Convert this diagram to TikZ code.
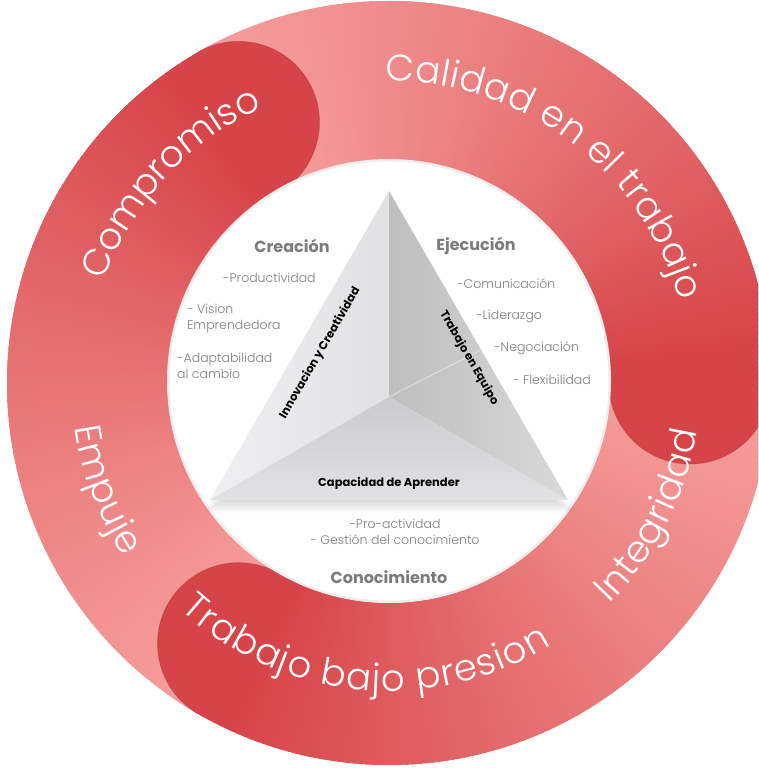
\documentclass[tikz,border=0pt]{standalone}
\usepackage{fontspec}
\setmainfont{Poppins}
\IfFontExistsTF{Poppins Light}
  {\newfontfamily\ringfamily{Poppins Light}}
  {\newfontfamily\ringfamily{Poppins}}
\usetikzlibrary{calc,decorations.text}

\definecolor{rlight}{HTML}{F69E9C}
\definecolor{rdark}{HTML}{D64348}
\definecolor{headgray}{HTML}{7B7B7B}
\definecolor{itemgray}{HTML}{7F7F7F}
\definecolor{faceLa}{HTML}{EFEFF1}
\definecolor{faceLb}{HTML}{E1E1E3}
\definecolor{faceRa}{HTML}{BEBEBF}
\definecolor{faceRb}{HTML}{D9D9D9}
\definecolor{faceBa}{HTML}{CBCBCD}
\definecolor{faceBb}{HTML}{E2E2E4}

\newcommand\ringfont{\ringfamily\fontsize{37}{40}\selectfont\color{white}}

\begin{document}
\begin{tikzpicture}[x=1pt,y=1pt,
  heading/.style={font=\bfseries\fontsize{16}{18}\selectfont, text=headgray, inner sep=0pt},
  item/.style={font=\ringfamily\fontsize{12.5}{16}\selectfont, text=itemgray, inner sep=0pt, align=left},
  facelabel/.style={font=\bfseries\fontsize{11.5}{13}\selectfont, text=black, inner sep=0pt},
  ringtext/.style={decorate, decoration={text along path, text align=fit to path, text={|\ringfont|#1}}},
  capedge/.style={draw=rdark!75!black, draw opacity=0.35, line width=0.8pt},
]
\useasboundingbox (0,0) rectangle (758,768);
\clip (0,0) rectangle (758,768);

\coordinate (C) at (389,385);
\def\rin{220}
\def\rout{382}
\def\rmid{301}
\def\rhalf{81}

% base ring
\fill[rlight, even odd rule] (C) circle[radius=\rout] (C) circle[radius=\rin];

% three swept bands, each 120 degrees clockwise, light tail to dark head
\foreach \tail in {120,360,240} {
  \foreach \i in {0,...,119} {
    \pgfmathsetmacro\a{\tail-\i}
    \pgfmathsetmacro\b{\a-1.6}
    \pgfmathsetmacro\p{min(100,100*((\i+1)/116)^1.2)}
    \fill[rdark!\p!rlight] ($(C)+(\a:\rin)$) arc[start angle=\a, end angle=\b, radius=\rin]
      -- ($(C)+(\b:\rout)$) arc[start angle=\b, end angle=\a, radius=\rout] -- cycle;
  }
}

% rounded heads of the bands
\foreach \h in {0,120,240} {
  \coordinate (head) at ($(C)+(\h:\rmid)$);
  \fill[rdark] ($(head)+(\h+8:\rhalf)$) arc[start angle=\h+8, end angle=\h-188, radius=\rhalf] -- cycle;
  \path[capedge] ($(C)+(\h:\rout)$) arc[start angle=\h, end angle=\h-180, radius=\rhalf];
}

% ring labels
\path[ringtext={Calidad en el trabajo}] ($(C)+(90.6:302)$) arc[start angle=90.6, end angle=15.7, radius=302];
\path[ringtext={Compromiso}] ($(C)+(160.3:303)$) arc[start angle=160.3, end angle=115.3, radius=303];
\path[ringtext={Trabajo bajo presion}] ($(C)+(227.4:308)$) arc[start angle=227.4, end angle=301.8, radius=308];
\path[ringtext={Empuje}] ($(C)+(188:317)$) arc[start angle=188, end angle=213.3, radius=317];
\path[ringtext={Integridad}] ($(C)+(315:312)$) arc[start angle=315, end angle=351.1, radius=312];

% inner disc
\coordinate (IC) at (389,387);
\fill[gray!14] (IC) circle[radius=222];
\fill[white] (IC) circle[radius=219.5];

% pyramid
\coordinate (T) at (389,577);
\coordinate (BL) at (210,268);
\coordinate (BR) at (568,268);
\coordinate (O) at (389,371);
\coordinate (Rm) at (481,418);

\foreach \k in {1,...,7}
  \fill[black, opacity=0.018] ($(BL)+(-\k,-1.8*\k)$) -- ($(BR)+(\k,-1.8*\k)$) -- (O) -- cycle;

\shade[left color=faceLa, right color=faceLb] (T) -- (BL) -- (O) -- cycle;
\shade[left color=faceRa, right color=faceRb] (T) -- (O) -- (BR) -- cycle;
\shade[top color=faceBa, bottom color=faceBb] (BL) -- (O) -- (BR) -- cycle;
\draw[white, opacity=0.6, line width=0.6pt] (O) -- (Rm);

% face labels
\node[facelabel, rotate=60] (innov) at (320,415) {Innovacion y Creatividad};
\node[facelabel, rotate=-60] (equipo) at (469,410) {Trabajo en Equipo};
\node[facelabel] (aprender) at (389,285) {Capacidad de Aprender};

% headings
\node[heading] (creacion) at (292,522) {Creación};
\node[heading] (ejecucion) at (476,522) {Ejecución};
\node[heading] (conoc) at (389,191) {Conocimiento};

% lists
\node[item, anchor=west] (prod) at (223,490) {-Productividad};
\node[item, anchor=west] (vision) at (187,450) {- Vision\\Emprendedora};
\node[item, anchor=west] (adapt) at (177,402) {-Adaptabilidad\\al cambio};
\node[item, anchor=west] (comun) at (457,484) {-Comunicación};
\node[item, anchor=west] (lider) at (476,452) {-Liderazgo};
\node[item, anchor=west] (negoc) at (494,420) {-Negociación};
\node[item, anchor=west] (flex) at (513,388) {- Flexibilidad};
\node[item, align=center] (proact) at (395,236) {-Pro-actividad\\- Gestión del conocimiento};
\end{tikzpicture}
\end{document}
